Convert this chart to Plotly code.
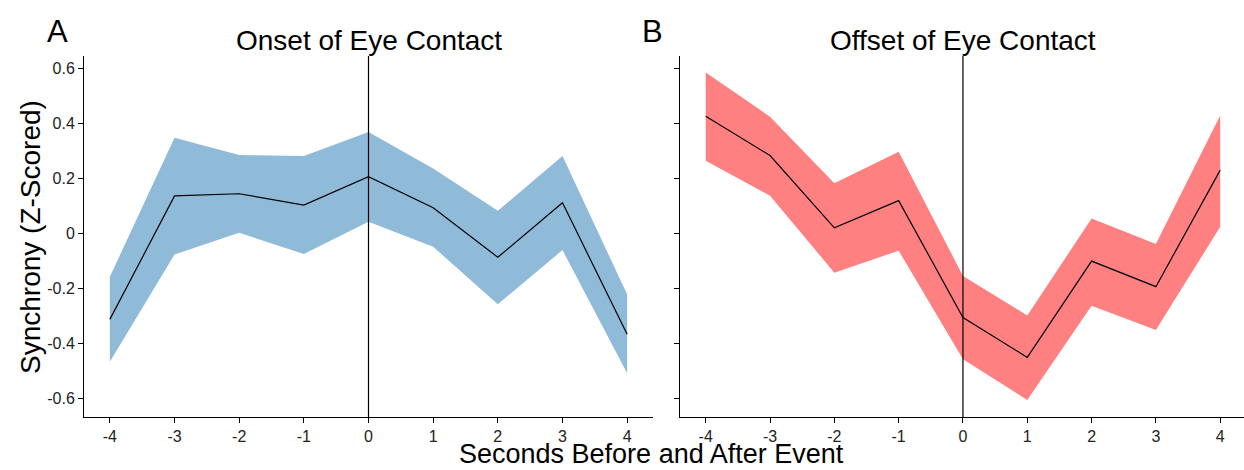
import plotly.graph_objects as go

seconds = [-4, -3, -2, -1, 0, 1, 2, 3, 4]

onset_mean = [-0.314, 0.135, 0.143, 0.102, 0.205, 0.092, -0.088, 0.110, -0.368]
onset_upper = [-0.159, 0.347, 0.284, 0.280, 0.368, 0.235, 0.081, 0.280, -0.223]
onset_lower = [-0.468, -0.078, 0.001, -0.076, 0.041, -0.050, -0.259, -0.062, -0.510]

offset_mean = [0.425, 0.282, 0.019, 0.118, -0.307, -0.452, -0.102, -0.195, 0.229]
offset_upper = [0.584, 0.423, 0.181, 0.296, -0.156, -0.300, 0.053, -0.040, 0.428]
offset_lower = [0.263, 0.136, -0.144, -0.064, -0.459, -0.607, -0.264, -0.353, 0.023]

x_ticks = [-4, -3, -2, -1, 0, 1, 2, 3, 4]
x_ticktext = ["-4", "-3", "-2", "-1", "0", "1", "2", "3", "4"]
y_ticks = [-0.6, -0.4, -0.2, 0, 0.2, 0.4, 0.6]
y_ticktext = ["-0.6", "-0.4", "-0.2", "0", "0.2", "0.4", "0.6"]

W, H = 1244, 470
FONT = "Liberation Sans, Arial, sans-serif"

fig = go.Figure()

def add_panel(xa, ya, mean, upper, lower, fillcolor):
    fig.add_trace(go.Scatter(x=seconds, y=upper, mode="lines", line=dict(width=0, color=fillcolor),
                             xaxis=xa, yaxis=ya, showlegend=False, hoverinfo="skip"))
    fig.add_trace(go.Scatter(x=seconds, y=lower, mode="lines", line=dict(width=0, color=fillcolor),
                             fill="tonexty", fillcolor=fillcolor,
                             xaxis=xa, yaxis=ya, showlegend=False, hoverinfo="skip"))
    fig.add_trace(go.Scatter(x=seconds, y=mean, mode="lines", line=dict(width=1.2, color="black"),
                             xaxis=xa, yaxis=ya, showlegend=False))

add_panel("x", "y", onset_mean, onset_upper, onset_lower, "#8fbbd9")
add_panel("x2", "y2", offset_mean, offset_upper, offset_lower, "#ff8080")

def px_x(p):
    return p / W

def px_y(p):
    return 1 - p / H

yrange = [-0.669, 0.644]

axis_style = dict(showgrid=False, zeroline=False, showline=True, linecolor="black", linewidth=1,
                  ticks="outside", ticklen=5, tickcolor="black",
                  tickfont=dict(family=FONT, size=16, color="#222"))

ydom = [px_y(417), px_y(56)]
fig.update_layout(
    width=W, height=H,
    margin=dict(l=0, r=0, t=0, b=0),
    plot_bgcolor="white", paper_bgcolor="white",
    xaxis=dict(domain=[px_x(84), px_x(653)], anchor="y", range=[-4.4, 4.4],
               tickvals=x_ticks, ticktext=x_ticktext, **axis_style),
    yaxis=dict(domain=ydom, anchor="x", range=yrange, tickvals=y_ticks, ticktext=y_ticktext, **axis_style),
    xaxis2=dict(domain=[px_x(680), 1.0], anchor="y2", range=[-4.4, 4.37],
                tickvals=x_ticks, ticktext=x_ticktext, **axis_style),
    yaxis2=dict(domain=ydom, anchor="x2", range=yrange, tickvals=y_ticks, ticktext=y_ticktext,
                showticklabels=False, **axis_style),
    font=dict(family=FONT),
)

for xa, ya in [("x", "y"), ("x2", "y2")]:
    fig.add_shape(type="line", xref=xa, yref=f"{ya} domain", x0=0, x1=0, y0=0, y1=1,
                  line=dict(color="black", width=1.2))

ann = [
    dict(text="Onset of Eye Contact", x=px_x(369), y=px_y(40), size=28),
    dict(text="Offset of Eye Contact", x=px_x(963), y=px_y(40), size=28),
    dict(text="A", x=px_x(57), y=px_y(31), size=31),
    dict(text="B", x=px_x(652), y=px_y(31), size=31),
]
for a in ann:
    fig.add_annotation(text=a["text"], x=a["x"], y=a["y"], xref="paper", yref="paper",
                       showarrow=False, xanchor="center", yanchor="middle",
                       font=dict(family=FONT, size=a["size"], color="black"))
fig.add_annotation(text="Seconds Before and After Event", x=px_x(651), y=0, xref="paper", yref="paper",
                   showarrow=False, xanchor="center", yanchor="bottom", borderpad=0,
                   font=dict(family=FONT, size=27, color="black"))
fig.add_annotation(text="Synchrony (Z-Scored)", x=px_x(30), y=px_y(237), xref="paper", yref="paper",
                   showarrow=False, textangle=-90, xanchor="center", yanchor="middle",
                   font=dict(family=FONT, size=28, color="black"))

fig.write_html("out.html")
